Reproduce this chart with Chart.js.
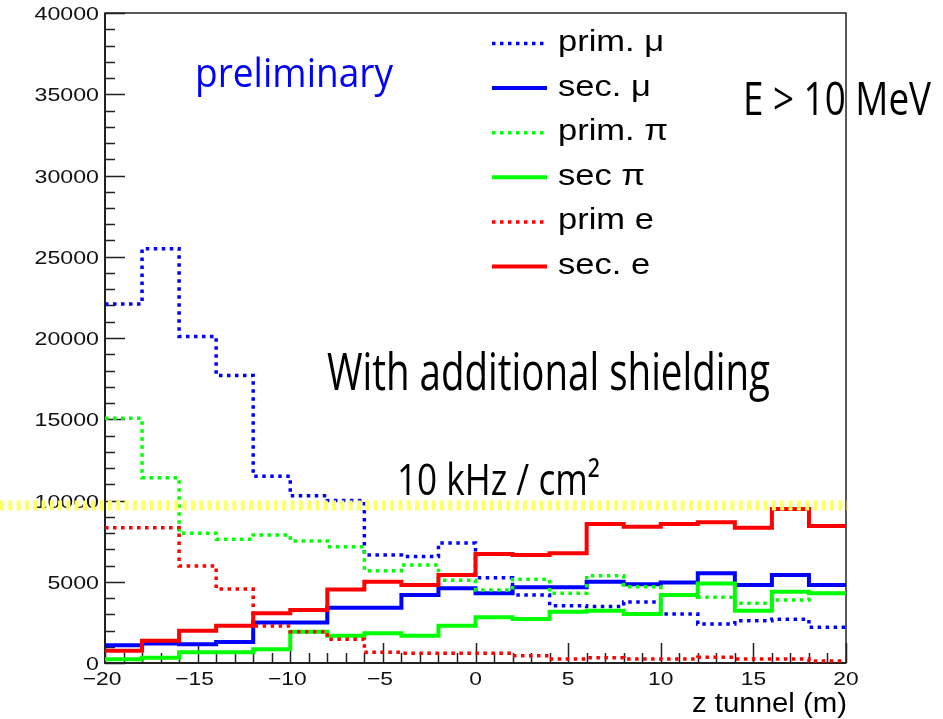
<!DOCTYPE html>
<html>
<head>
<meta charset="utf-8">
<script src="https://cdn.jsdelivr.net/npm/chart.js@4/dist/chart.umd.min.js"></script>
<style>
  html, body { margin: 0; padding: 0; background: #fff; }
  canvas { display: block; }
</style>
</head>
<body>
<canvas id="fluxChart" width="943" height="719"></canvas>
<script>
// bin edges along the tunnel (m), 2 m bins
var binEdges = [-20, -18, -16, -14, -12, -10, -8, -6, -4, -2, 0, 2, 4, 6, 8, 10, 12, 14, 16, 18, 20];

// rate per bin for each particle type
var primMu = [22100, 25500, 20100, 17700, 11500, 10300, 10000, 6650, 6550, 7380, 5250, 4180, 3530, 3470, 3750, 3020, 2400, 2600, 2690, 2200];
var secMu  = [1100, 1200, 1150, 1300, 2500, 2500, 3400, 3400, 4180, 4600, 4290, 4660, 4660, 5000, 4840, 4960, 5520, 4800, 5420, 4800];
var primPi = [15060, 11400, 7980, 7610, 7880, 7510, 7160, 5680, 6030, 5100, 4490, 5150, 4290, 5370, 4700, 4200, 4040, 3670, 3880, 4290];
var secPi  = [230, 330, 660, 660, 840, 1930, 1680, 1830, 1680, 2300, 2810, 2710, 3160, 3220, 3020, 4180, 4900, 3220, 4390, 4290];
var primE  = [8330, 8330, 5970, 4550, 2280, 1930, 1460, 660, 600, 600, 600, 450, 250, 330, 250, 250, 350, 250, 250, 120];
var secE   = [760, 1370, 1990, 2300, 3060, 3260, 4530, 5000, 4800, 5420, 6710, 6650, 6750, 8550, 8390, 8550, 8660, 8330, 9480, 8430];

var seriesLabels = ["prim. \u03bc", "sec. \u03bc", "prim. \u03c0", "sec \u03c0", "prim e", "sec. e"];
var seriesColors = ["#0000ff", "#0000ff", "#00ff00", "#00ff00", "#ff0000", "#ff0000"];
var seriesDotted = [true, false, true, false, true, false];

var yTicks = [0, 5000, 10000, 15000, 20000, 25000, 30000, 35000, 40000];
var xTicks = [-20, -15, -10, -5, 0, 5, 10, 15, 20];
var shieldLimit = 9700;   // 10 kHz / cm2 reference level

var DOT = [3.5, 4.5];

// one point per left bin edge, plus the closing edge
function histPoints(values){
	var pts = [];
	for(var i=0;i<values.length;i++){
		pts.push({x: binEdges[i], y: values[i]});
	}
	pts.push({x: binEdges[binEdges.length-1], y: values[values.length-1]});
	return pts;
}

var allSeries = [primMu, secMu, primPi, secPi, primE, secE];
var datasets = [];
for(var i=0;i<allSeries.length;i++){
	datasets.push({
		label: seriesLabels[i],
		data: histPoints(allSeries[i]),
		borderColor: seriesColors[i],
		borderWidth: seriesDotted[i] ? 3.5 : 4,
		borderDash: seriesDotted[i] ? DOT : [],
		borderCapStyle: 'butt',
		stepped: 'before',   // horizontal at the bin value, then jump at the next edge
		pointRadius: 0,
		fill: false,
		order: allSeries.length - i
	});
}

// text with a horizontal stretch, either a fixed factor or a target width
function drawText(ctx, text, x, y, o){
	ctx.save();
	ctx.font = o.font;
	ctx.fillStyle = o.color || '#000';
	ctx.textBaseline = 'alphabetic';
	ctx.textAlign = 'left';
	var w = ctx.measureText(text).width;
	var s = o.width ? o.width / w : (o.sx || 1);
	var dw = w * s;
	var left = x;
	if(o.align == 'right') left = x - dw;
	if(o.align == 'center') left = x - dw / 2;
	ctx.translate(left, y);
	ctx.scale(s, 1);
	ctx.fillText(text, 0, 0);
	ctx.restore();
}

var axesPlugin = {
	id: 'rootAxes',
	beforeDatasetsDraw: function(chart){
		var ctx = chart.ctx, a = chart.chartArea;
		var xs = chart.scales.x, ys = chart.scales.y;
		ctx.save();
		ctx.strokeStyle = '#222';
		ctx.lineWidth = 1.5;
		ctx.strokeRect(a.left, a.top, a.right - a.left, a.bottom - a.top);
		ctx.lineWidth = 2;
		ctx.beginPath();
		ctx.moveTo(a.left, a.top); ctx.lineTo(a.left, a.bottom); ctx.lineTo(a.right, a.bottom);
		ctx.stroke();

		// y ticks: major every 5000, minor every 1000
		ctx.lineWidth = 1.5;
		ctx.beginPath();
		for(var v=0; v<=40000; v+=1000){
			var py = Math.round(ys.getPixelForValue(v)) + 0.5;
			var len = (v % 5000 == 0) ? 20 : 10;
			ctx.moveTo(a.left, py); ctx.lineTo(a.left + len, py);
		}
		// x ticks: major every 5 m, minor every 1 m
		for(var z=-20; z<=20; z+=1){
			var px = Math.round(xs.getPixelForValue(z)) + 0.5;
			var l2 = (z % 5 == 0) ? 20 : 10;
			ctx.moveTo(px, a.bottom); ctx.lineTo(px, a.bottom - l2);
		}
		ctx.stroke();
		ctx.restore();

		for(var i=0;i<yTicks.length;i++){
			drawText(ctx, String(yTicks[i]), a.left - 6, ys.getPixelForValue(yTicks[i]) + 7,
				{font: '19px "Liberation Sans"', sx: 1.22, align: 'right', color: '#111'});
		}
		for(var j=0;j<xTicks.length;j++){
			var t = xTicks[j] < 0 ? '\u2212' + Math.abs(xTicks[j]) : String(xTicks[j]);
			drawText(ctx, t, xs.getPixelForValue(xTicks[j]) - (xTicks[j] < 0 ? 3 : 0), a.bottom + 22,
				{font: '19px "Liberation Sans"', sx: 1.2, align: 'center', color: '#111'});
		}
		drawText(ctx, 'z tunnel (m)', a.right + 1, 712, {font: '27px "Liberation Sans"', width: 155, align: 'right'});
	},
	afterDraw: function(chart){
		var ctx = chart.ctx, a = chart.chartArea;
		var ys = chart.scales.y;

		// legend
		var ds = chart.data.datasets;
		for(var i=0;i<ds.length;i++){
			var cy = 43.5 + i * 44.6;
			ctx.save();
			ctx.strokeStyle = ds[i].borderColor;
			ctx.lineWidth = ds[i].borderWidth;
			ctx.setLineDash(ds[i].borderDash);
			ctx.beginPath();
			ctx.moveTo(492, cy); ctx.lineTo(547, cy);
			ctx.stroke();
			ctx.restore();
			drawText(ctx, ds[i].label, 558, cy + 7.5, {font: '29px "Liberation Sans"', sx: 1.19});
		}

		// 10 kHz/cm2 level
		var ly = ys.getPixelForValue(shieldLimit);
		ctx.save();
		ctx.strokeStyle = '#ffff66';
		ctx.lineWidth = 10;
		ctx.setLineDash([4, 4.3]);
		ctx.beginPath();
		ctx.moveTo(0, ly); ctx.lineTo(a.right + 2, ly);
		ctx.stroke();
		ctx.restore();

		var f = '"Open Sans", "Noto Sans", sans-serif';
		drawText(ctx, 'preliminary', 195, 87, {font: '41px ' + f, color: '#0000ff', width: 198});
		drawText(ctx, 'E > 10 MeV', 743, 115, {font: '45px ' + f, width: 188});
		drawText(ctx, 'With additional shielding', 327, 390, {font: '51px ' + f, width: 443});
		drawText(ctx, '10 kHz / cm\u00b2', 397, 495, {font: '43px ' + f, width: 203});
	}
};

var ctx = document.getElementById('fluxChart');
var fluxChart = new Chart(ctx, {
	type: 'line',
	data: { datasets: datasets },
	options: {
		responsive: false,
		animation: false,
		layout: { padding: { left: 105, top: 13, right: 97, bottom: 56 } },
		plugins: {
			legend: { display: false },
			tooltip: { enabled: false }
		},
		scales: {
			x: { type: 'linear', min: -20, max: 20, display: false },
			y: { min: 0, max: 40000, display: false }
		}
	},
	plugins: [axesPlugin]
});
</script>
</body>
</html>
